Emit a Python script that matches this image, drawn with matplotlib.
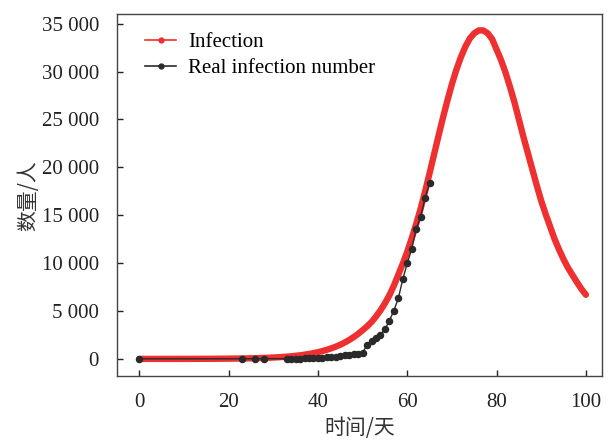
import numpy as np
import matplotlib.pyplot as plt
from matplotlib.lines import Line2D
from matplotlib.ticker import FuncFormatter

# model curve (one value per day)
days = np.arange(0, 101)
infection = [1, 1, 2, 2, 2, 3, 3, 4, 4, 5,
             6, 7, 8, 9, 11, 13, 15, 18, 21, 25,
             30, 35, 41, 48, 56, 66, 77, 91, 107, 125,
             147, 172, 202, 237, 278, 325, 380, 445, 520, 605,
             705, 820, 955, 1110, 1285, 1485, 1715, 1980, 2280, 2620,
             3000, 3400, 3860, 4430, 5070, 5810, 6650, 7650, 8800, 9950,
             11200, 12600, 14100, 15700, 17500, 19400, 21350, 23300, 25200, 27000,
             28700, 30200, 31500, 32600, 33450, 34000, 34300, 34300, 34000, 33400,
             32300, 31200, 29900, 28400, 26800, 25000, 23200, 21500, 19800, 18100,
             16500, 15100, 13800, 12500, 11400, 10400, 9500, 8750, 8000, 7300,
             6700]

# reported numbers
real_days = [0, 23, 26, 28] + list(range(33, 66))
real_cases = [10, 15, 25, 35,
              10, 20, 30, 40, 55, 70, 90, 110, 140, 175,
              210, 250, 310, 380, 450, 490, 560, 630,
              1500, 1880, 2160, 2540, 3100, 4000, 5050, 6340, 8330, 10000,
              11500, 13550, 14870, 16850, 18360]

plt.rcParams['font.family'] = ['Liberation Serif', 'Noto Sans CJK SC']
plt.rcParams['font.size'] = 15

red = '#ee3030'
dark = '#2a2a2a'

fig = plt.figure(figsize=(6.11, 4.41), dpi=100)
ax = fig.add_axes([0.1915, 0.147, 0.793, 0.821])

ax.plot(days, infection, color=red, lw=4.6, solid_capstyle='round',
        solid_joinstyle='round', zorder=2)
ax.plot(real_days, real_cases, color=dark, lw=1.0, marker='o', ms=4.4,
        zorder=3)

ax.set_xlim(-5, 103.5)
ax.set_ylim(-1800, 36000)
ax.set_xticks([0, 20, 40, 60, 80, 100])
ax.set_yticks(np.arange(0, 35001, 5000))
ax.yaxis.set_major_formatter(
    FuncFormatter(lambda v, p: '{:,}'.format(int(v)).replace(',', ' ')))
ax.tick_params(direction='in', length=4, width=1, colors='#222222',
               labelcolor='#222222', labelsize=15)
ax.tick_params(axis='y', pad=13)
ax.tick_params(axis='x', pad=12)
for s in ax.spines.values():
    s.set_color('#444444')
    s.set_linewidth(1.0)

cjk = ['Noto Sans CJK SC', 'DejaVu Sans']
ax.set_xlabel('时间/天', family=cjk, fontsize=15, color='#333333',
              labelpad=4)
ax.set_ylabel('数量/人', family=cjk, fontsize=15, color='#333333',
              labelpad=2)

handles = [Line2D([], [], color=red, lw=1.2, marker='o', ms=3.5),
           Line2D([], [], color=dark, lw=1.2, marker='o', ms=3.5)]
ax.legend(handles, ['Infection', 'Real infection number'], loc='upper left',
          frameon=False, handlelength=1.45, handletextpad=0.6,
          labelspacing=0.3, bbox_to_anchor=(0.02, 1.0), fontsize=15)

fig.savefig('out.png', dpi=100)
